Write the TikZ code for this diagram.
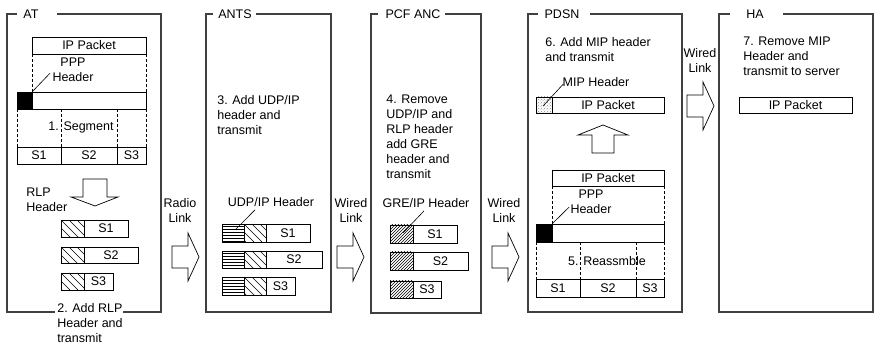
\documentclass[tikz,border=0pt]{standalone}
\usepackage{fontspec}
\setmainfont{Liberation Sans}
\usetikzlibrary{calc,patterns}
\def\rlphatch(#1,#2)(#3,#4){\begin{scope}\clip (#1,#2) rectangle (#3,#4); \foreach \k in {-16,-8,...,24} \draw ($(#1,#2)+(\k,0)$) -- ++(20,20); \end{scope}\draw (#1,#2) rectangle (#3,#4);}
\def\linkarrow(#1,#2){\draw[blockarrow] (#1,#2) ++(0,-11) -- ++(16,0) -- ++(0,-13) -- ++(11,24) -- ++(-11,24) -- ++(0,-13) -- ++(-16,0) -- cycle;}

\begin{document}
\begin{tikzpicture}[x=1pt, y=-1pt, line width=0.6pt,
	every node/.style={font=\fontsize{12.5}{15}\selectfont, inner sep=0pt},
	frame/.style={line width=1.1pt, color=black!75},
	dashline/.style={dash pattern=on 3pt off 2pt},
	blockarrow/.style={line width=0.7pt, fill=white}]
			%%%%% START %%%%%
			\useasboundingbox (0,0) rectangle (875,344);
			
			% frames
			\draw[frame] (17,14) -- (7,14) -- (7,312) -- (55,312);
			\draw[frame] (123,312) -- (161,312) -- (161,14) -- (57,14);
			\node (at) at (31,14) {AT};
			\node[anchor=north west, align=left] (step2) at (57,303.5) {2. Add RLP\\Header and\\transmit};
			
			\draw[frame] (213,14) -- (206,14) -- (206,312) -- (331,312) -- (331,14) -- (256,14);
			\node (ants) at (235,14) {ANTS};
			\node[anchor=north west, align=left] (step3) at (217,95) {3. Add UDP/IP\\header and\\transmit};
			
			\draw[frame] (378,14) -- (371,14) -- (371,313) -- (481,313) -- (481,14) -- (445,14);
			\node (pcf) at (413,14) {PCF ANC};
			\node[anchor=north west, align=left] (step4) at (386,95) {4. Remove\\UDP/IP and\\RLP header\\add GRE\\header and\\transmit};
			
			\draw[frame] (538,14) -- (528,14) -- (528,312) -- (682,312) -- (682,14) -- (590,14);
			\node (pdsn) at (562,14) {PDSN};
			\node[anchor=north west, align=left] (step6) at (545,37) {6. Add MIP header\\and transmit};
			
			\draw[frame] (730,14) -- (719,14) -- (719,312) -- (873,312) -- (873,14) -- (783,14);
			\node (ha) at (755,14) {HA};
			\node[anchor=north west, align=left] (step7) at (743,37) {7. Remove MIP\\Header and\\transmit to server};
			
			% links
			\node[align=center] (radio) at (180,210) {Radio\\Link};
			\linkarrow(172,257)
			\node[align=center] (wired1) at (351,210) {Wired\\Link};
			\linkarrow(337,257)
			\node[align=center] (wired2) at (504,210) {Wired\\Link};
			\linkarrow(492,257)
			\node[align=center] (wired3) at (700,60) {Wired\\Link};
			\linkarrow(687,106)
			
			% AT
			\draw (32,37) rectangle (146,54) node[midway] (ipat) {IP Packet};
			\draw[dashline] (32,54) -- (32,92) (146,54) -- (146,92);
			\node[align=center] (pppat) at (73,70) {PPP\\Header};
			\draw[fill=black] (17,92) rectangle (32,109);
			\draw (32,92) rectangle (146,109);
			\coordinate (hdrat) at (32,92);
			\draw (hdrat) -- ($(pppat.west)+(-2,3)$);
			\draw[dashline] (17,109) -- (17,147) (61,109) -- (61,147) (117,109) -- (117,147) (146,109) -- (146,147);
			\node (segat) at (81,127) {1. Segment};
			\draw (17,147) rectangle (61,164) node[midway] (s1at) {S1};
			\draw (61,147) rectangle (117,164) node[midway] (s2at) {S2};
			\draw (117,147) rectangle (146,164) node[midway] (s3at) {S3};
			
			\draw[blockarrow] (83,179) -- (107,179) -- (107,197) -- (118,197) -- (95,206) -- (71,197) -- (83,197) -- cycle;
			\node[anchor=north west, align=left] (rlphdr) at (26,188) {RLP\\Header};
			
			\rlphatch(61,220)(84,237)
			\draw (84,220) rectangle (128,237) node[midway] (r1) {S1};
			\rlphatch(61,247)(84,263)
			\draw (84,247) rectangle (138,263) node[midway] (r2) {S2};
			\rlphatch(61,273)(84,290)
			\draw (84,273) rectangle (113,290) node[midway] (r3) {S3};
			
			% ANTS
			\node (udphdr) at (271,202) {UDP/IP Header};
			\draw[pattern=horizontal lines] (222,224) rectangle (244,242);
			\rlphatch(244,224)(266,242)
			\draw (266,224) rectangle (310,242) node[midway] (u1) {S1};
			\draw[pattern=horizontal lines] (222,251) rectangle (244,268);
			\rlphatch(244,251)(266,268)
			\draw (266,251) rectangle (322,268) node[midway] (u2) {S2};
			\draw[pattern=horizontal lines] (222,277) rectangle (244,295);
			\rlphatch(244,277)(266,295)
			\draw (266,277) rectangle (295,295) node[midway] (u3) {S3};
			\coordinate (udpin) at (235,230);
			\draw (udpin) -- ($(udphdr.south)+(-16,3)$);
			
			% PCF ANC
			\node (grehdr) at (426,203) {GRE/IP Header};
			\draw[pattern=north east lines] (390,225) rectangle (413,243);
			\draw (413,225) rectangle (457,243) node[midway] (g1) {S1};
			\draw[pattern=north east lines] (390,252) rectangle (413,270);
			\draw (413,252) rectangle (468,270) node[midway] (g2) {S2};
			\draw[pattern=north east lines] (390,281) rectangle (413,298);
			\draw (413,281) rectangle (441,298) node[midway] (g3) {S3};
			\coordinate (grein) at (403,233);
			\draw (grein) -- ($(grehdr.south)+(-2,3)$);
			
			% PDSN
			\node (miphdr) at (596,82) {MIP Header};
			\draw[pattern=crosshatch dots, pattern color=black!45] (536,97) rectangle (552,113);
			\draw (552,97) rectangle (664,113) node[midway] (ippd) {IP Packet};
			\coordinate (mipin) at (543,106);
			\draw (mipin) -- ($(miphdr.west)+(1,2)$);
			
			\draw[blockarrow] (592,153) -- (592,135) -- (578,135) -- (603,125) -- (628,135) -- (614,135) -- (614,153) -- cycle;
			
			\draw (552,170) rectangle (664,186) node[midway] (ippd2) {IP Packet};
			\draw[dashline] (552,186) -- (552,224) (664,186) -- (664,224);
			\node[align=center] (ppppd) at (591,202) {PPP\\Header};
			\draw[fill=black] (536,224) rectangle (552,242);
			\draw (552,224) rectangle (664,242);
			\coordinate (hdrpd) at (552,224);
			\draw (hdrpd) -- ($(ppppd.west)+(-1,5)$);
			\draw[dashline] (536,242) -- (536,279) (580,242) -- (580,279) (636,242) -- (636,279) (664,242) -- (664,279);
			\node (reasm) at (607,261) {5. Reassmble};
			\draw (536,279) rectangle (580,297) node[midway] (s1pd) {S1};
			\draw (580,279) rectangle (636,297) node[midway] (s2pd) {S2};
			\draw (636,279) rectangle (664,297) node[midway] (s3pd) {S3};
			
			% HA
			\draw (739,97) rectangle (852,113) node[midway] (ipha) {IP Packet};
			%%%%% END %%%%%
\end{tikzpicture}
\end{document}
